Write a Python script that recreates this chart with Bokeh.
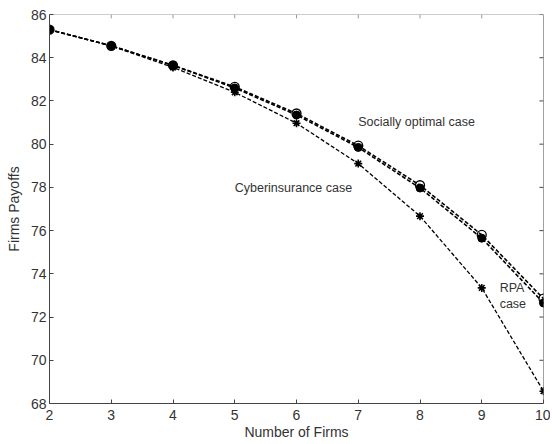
from bokeh.plotting import figure
from bokeh.models import FixedTicker, Range1d
from bokeh.core.properties import value
from bokeh.embed import file_html
from bokeh.resources import INLINE

firms = [2, 3, 4, 5, 6, 7, 8, 9, 10]
socially_optimal = [85.3, 84.55, 83.65, 82.65, 81.42, 79.93, 78.1, 75.8, 72.85]
rpa = [85.3, 84.55, 83.65, 82.6, 81.35, 79.85, 77.97, 75.65, 72.65]
cyberinsurance = [85.3, 84.55, 83.55, 82.4, 80.97, 79.1, 76.67, 73.35, 68.57]
x_ticks = [2, 3, 4, 5, 6, 7, 8, 9, 10]
y_ticks = [68, 70, 72, 74, 76, 78, 80, 82, 84, 86]

FONT = "Liberation Sans"
TXT = "#333333"
AX = "#444444"

p = figure(width=550, height=442, output_backend="svg", toolbar_location=None,
           x_range=Range1d(2, 10), y_range=Range1d(68, 86),
           min_border_left=49, min_border_right=7, min_border_top=14, min_border_bottom=38)
p.grid.visible = False
p.outline_line_color = None
p.background_fill_color = "white"
p.border_fill_color = "white"

for ax in (p.xaxis[0], p.yaxis[0]):
    ax.major_tick_in = 4
    ax.major_tick_out = 0
    ax.minor_tick_line_color = None
    ax.axis_line_color = AX
    ax.major_tick_line_color = AX
    ax.major_label_text_font = FONT
    ax.major_label_text_font_size = "14px"
    ax.major_label_text_color = TXT
    ax.axis_label_text_font = FONT
    ax.axis_label_text_font_size = "14px"
    ax.axis_label_text_font_style = "normal"
    ax.axis_label_text_color = TXT

p.xaxis.ticker = FixedTicker(ticks=x_ticks)
p.yaxis.ticker = FixedTicker(ticks=y_ticks)
p.xaxis.axis_label = "Number of Firms"
p.yaxis.axis_label = "Firms Payoffs"
p.xaxis.major_label_standoff = 6
p.xaxis.axis_label_standoff = 1
p.yaxis.major_label_standoff = 3
p.yaxis.axis_label_standoff = 6

# box: top and right borders with inward ticks
x_lo, x_hi = x_ticks[0], x_ticks[-1]
y_lo, y_hi = y_ticks[0], y_ticks[-1]
p.segment(x0=[x_lo], y0=[y_hi], x1=[x_hi], y1=[y_hi], line_color="#999999", line_width=1)
p.segment(x0=[x_hi], y0=[y_lo], x1=[x_hi], y1=[y_hi], line_color=AX, line_width=1)
p.segment(x0=x_ticks, y0=[y_hi] * len(x_ticks), x1=x_ticks, y1=[y_hi - 0.18] * len(x_ticks),
          line_color="#999999", line_width=1)
p.segment(x0=[x_hi] * len(y_ticks), y0=y_ticks, x1=[x_hi - 0.065] * len(y_ticks), y1=y_ticks,
          line_color=AX, line_width=1)

dash = "4 2"
p.line(firms, cyberinsurance, line_color="black", line_width=1.3, line_dash=dash)
p.scatter(firms, cyberinsurance, marker="asterisk", size=8, line_color="black", line_width=1.6)

p.line(firms, rpa, line_color="black", line_width=1.6, line_dash=dash)
p.scatter(firms, rpa, marker="circle", size=8, fill_color="black", line_color="black")

p.line(firms, socially_optimal, line_color="black", line_width=1.6, line_dash=dash)
p.scatter(firms, socially_optimal, marker="circle", size=9, fill_color=None,
          line_color="black", line_width=1.3)

labels_x = [7.0, 5.0, 9.29, 9.29]
labels_y = [81.02, 77.97, 73.36, 72.62]
labels_t = ["Socially optimal case", "Cyberinsurance case", "RPA", "case"]
p.text(labels_x, labels_y, text=labels_t, text_font=value(FONT), text_font_size="12.5px",
       text_color=TXT, text_baseline="middle", text_align="left")

open("out.html", "w").write(file_html(p, INLINE))
